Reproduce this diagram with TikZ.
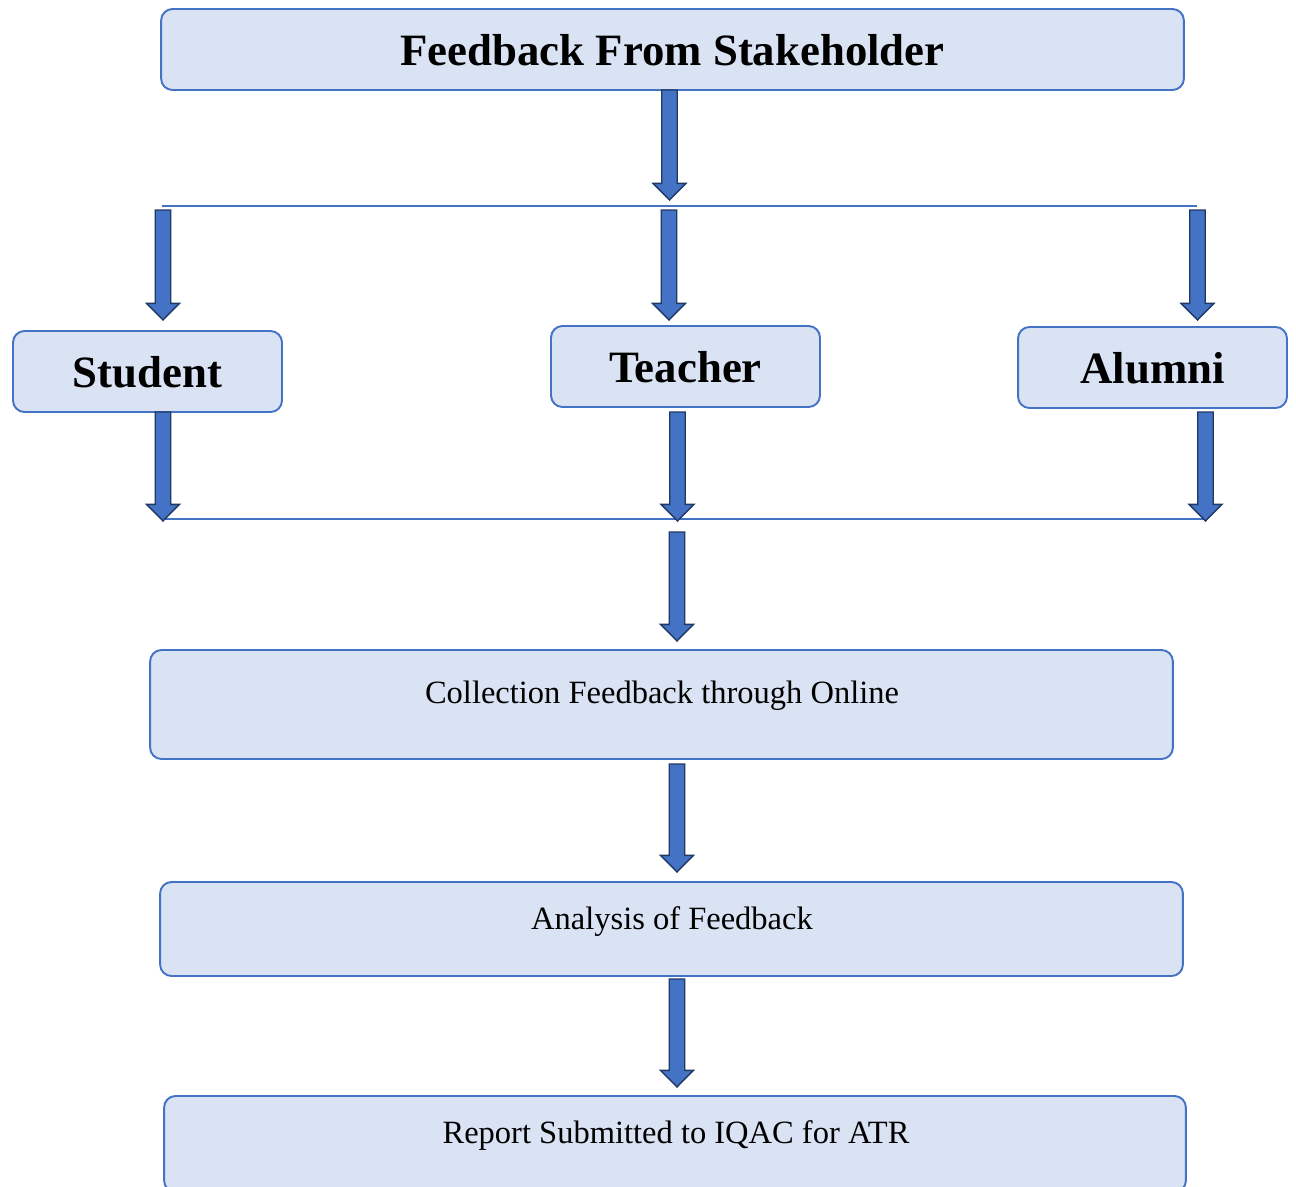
\documentclass[tikz,border=0pt]{standalone}
\usepackage{fontspec}
\setmainfont{Liberation Serif}
\usepackage{tikz}
\usetikzlibrary{
  	calc,
  	positioning
  }
\definecolor{boxfill}{HTML}{DAE3F3}
\definecolor{boxedge}{HTML}{4472C4}
\definecolor{arrowblue}{HTML}{4472C4}
\definecolor{arrowedge}{HTML}{1F3864}

\tikzset{
  stage/.style={draw=boxedge, fill=boxfill, line width=1.1pt, rounded corners=6.5pt, inner sep=0pt},
  headtxt/.style={font=\fontsize{25.5}{30}\selectfont\bfseries, text depth=0pt},
  steptxt/.style={font=\fontsize{18.5}{22}\selectfont, inner sep=0pt},
  hline/.style={draw=boxedge, line width=0.6pt},
  barrow/.style={draw=arrowedge, fill=arrowblue, line width=0.8pt, line join=miter,
    to path={let \p1=(\tikztostart), \p2=(\tikztotarget) in
      ({\x1-4.4pt},\y1) -- ({\x1-4.4pt},{\y2+9.5pt}) -- ({\x1-9.4pt},{\y2+9.5pt}) -- (\x1,\y2)
      -- ({\x1+9.4pt},{\y2+9.5pt}) -- ({\x1+4.4pt},{\y2+9.5pt}) -- ({\x1+4.4pt},\y1) -- cycle}}
}

\begin{document}
\begin{tikzpicture}[x=.02cm, y=-.02cm]
	\useasboundingbox (0,0) rectangle (1296,1187);
	\node[stage, headtxt, minimum width=20.46cm, minimum height=1.62cm] (fb) at (672.5,49.5) {Feedback From Stakeholder};
%
	\node[stage, headtxt, minimum width=5.38cm, minimum height=1.62cm] (stud) at (147.5,371.5) {Student};
	\node[stage, headtxt, minimum width=5.38cm, minimum height=1.62cm] (teach) at (685.5,366.5) {Teacher};
	\node[stage, headtxt, minimum width=5.38cm, minimum height=1.62cm] (alum) at (1152.5,367.5) {Alumni};
%
	\node[stage, minimum width=20.46cm, minimum height=2.18cm] (coll) at (661.5,704.5) {};
	\node[steptxt] (colltxt) at (662,696) {Collection Feedback through Online};
	\node[stage, minimum width=20.46cm, minimum height=1.88cm] (anal) at (671.5,929) {};
	\node[steptxt] (analtxt) at (672,922) {Analysis of Feedback};
	\node[stage, minimum width=20.44cm, minimum height=1.92cm] (rep) at (675,1144) {};
	\node[steptxt] (reptxt) at (676,1136) {Report Submitted to IQAC for ATR};
%
	\coordinate (hl1) at (162,206);
	\coordinate (hr1) at (1197,206);
	\coordinate (hl2) at (163,519);
	\coordinate (hr2) at (1207,519);
	\draw[hline] (hl1) -- (hr1);
	\draw[hline] (hl2) -- (hr2);
%
	\coordinate (fbout) at (669.5,90);
	\coordinate (fbin) at (669.5,200);
	\coordinate (studa) at (163,210);
	\coordinate (studb) at (163,320);
	\coordinate (teacha) at (669,210);
	\coordinate (teachb) at (669,320);
	\coordinate (aluma) at (1197.5,210);
	\coordinate (alumb) at (1197.5,320);
	\coordinate (studc) at (163,412);
	\coordinate (studd) at (163,521);
	\coordinate (teachc) at (677.5,412);
	\coordinate (teachd) at (677.5,521);
	\coordinate (alumc) at (1205.5,412);
	\coordinate (alumd) at (1205.5,521);
	\coordinate (colla) at (677,532);
	\coordinate (collb) at (677,641);
	\coordinate (anala) at (677,764);
	\coordinate (analb) at (677,872);
	\coordinate (repa) at (677,979);
	\coordinate (repb) at (677,1087);
%
	\draw[barrow] (fbout) to (fbin);
	\draw[barrow] (studa) to (studb);
	\draw[barrow] (teacha) to (teachb);
	\draw[barrow] (aluma) to (alumb);
	\draw[barrow] (studc) to (studd);
	\draw[barrow] (teachc) to (teachd);
	\draw[barrow] (alumc) to (alumd);
	\draw[barrow] (colla) to (collb);
	\draw[barrow] (anala) to (analb);
	\draw[barrow] (repa) to (repb);
\end{tikzpicture}
\end{document}
